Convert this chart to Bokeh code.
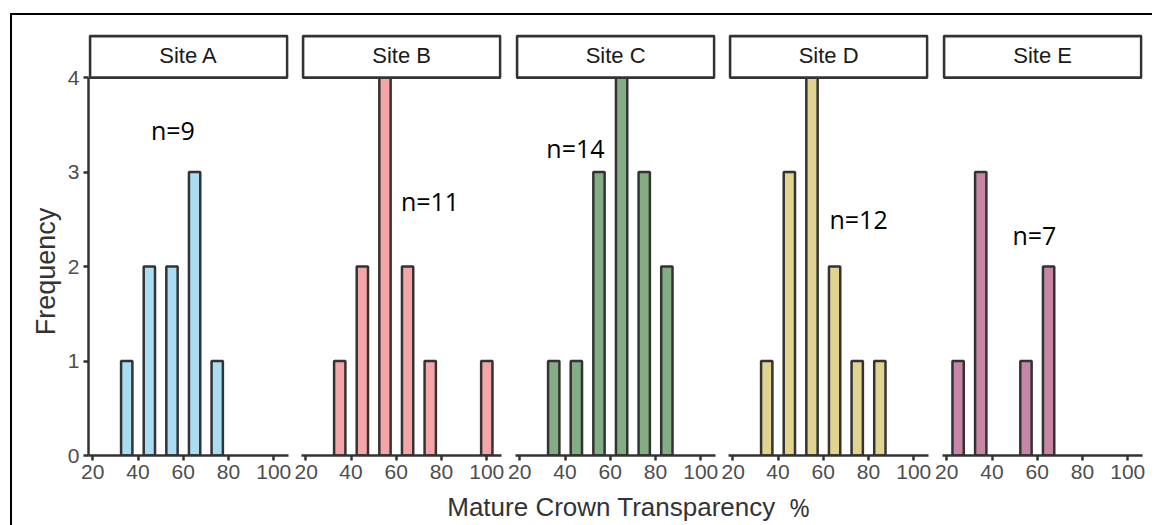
import math
from bokeh.plotting import figure
from bokeh.models import Range1d, FixedTicker
from bokeh.layouts import row, column
from bokeh.embed import file_html
from bokeh.resources import INLINE
from bokeh.core.properties import value

# ---------------- data ----------------
sites = ["Site A", "Site B", "Site C", "Site D", "Site E"]
colors = ["#a9ddf1", "#f4a5a8", "#85ad83", "#e0d490", "#c886a6"]

a_bins = [35, 45, 55, 65, 75]
a_counts = [1, 2, 2, 3, 1]
b_bins = [35, 45, 55, 65, 75, 100]
b_counts = [1, 2, 4, 2, 1, 1]
c_bins = [35, 45, 55, 65, 75, 85]
c_counts = [1, 1, 3, 4, 3, 2]
d_bins = [35, 45, 55, 65, 75, 85]
d_counts = [1, 3, 4, 2, 1, 1]
e_bins = [25, 35, 55, 65]
e_counts = [1, 3, 1, 2]

n_text = ["n=9", "n=11", "n=14", "n=12", "n=7"]
n_x = [55.4, 74.9, 44.6, 75.6, 58.7]
n_y = [3.45, 2.69, 3.25, 2.50, 2.33]

x_ticks = [20, 40, 60, 80, 100]
y_ticks = [0, 1, 2, 3, 4]
bin_width = 5

x_title = "Mature Crown Transparency"
x_title_unit = "%"
y_title = "Frequency"

all_bins = [a_bins, b_bins, c_bins, d_bins, e_bins]
all_counts = [a_counts, b_counts, c_counts, d_counts, e_counts]

# ---------------- layout ----------------
X0, X1 = 18.1, 106.5
Y_TOP = 4.466
STRIP_B, STRIP_T = 4.0, 4.439
FRAME_W, FRAME_H = 200, 422
TOP_B, BOT_B = 18, 36
left_borders = [26, 7, 8, 7, 8]
right_borders = [6, 6, 6, 6, 10]
LEFT_W = 50

AX = "#333333"
TICK_COL = "#4d4d4d"
TITLE_COL = "#333333"

# left strip holding the y title
ROW_H = TOP_B + FRAME_H + BOT_B
left = figure(frame_width=LEFT_W, frame_height=ROW_H,
              x_range=Range1d(0, LEFT_W), y_range=Range1d(0, ROW_H),
              output_backend="svg", toolbar_location=None,
              x_axis_location=None, y_axis_location=None, min_border=0)
left.outline_line_color = None
left.grid.visible = False
left.text(x=[LEFT_W - 17], y=[ROW_H - (253 - 15)], text=[y_title], angle=math.pi / 2,
          text_align="center", text_baseline="middle",
          text_font=value("Liberation Sans"), text_font_size="27px",
          text_color=TITLE_COL)

figs = [left]
for i in range(5):
    p = figure(frame_width=FRAME_W, frame_height=FRAME_H,
               x_range=Range1d(X0, X1), y_range=Range1d(0, Y_TOP),
               output_backend="svg", toolbar_location=None,
               y_axis_location="left" if i == 0 else None,
               min_border_top=TOP_B, min_border_bottom=BOT_B,
               min_border_left=left_borders[i],
               min_border_right=right_borders[i])
    p.outline_line_color = None
    p.grid.visible = False

    p.vbar(x=all_bins[i], top=all_counts[i], width=bin_width, bottom=0,
           fill_color=colors[i], line_color=AX, line_width=2.5)

    # facet strip
    sl, sr = X0 + 0.65, X1 - 0.55
    p.quad(left=[sl], right=[sr], bottom=[STRIP_B], top=[STRIP_T],
           fill_color="white", line_color=AX, line_width=2.8)
    p.text(x=[(sl + sr) / 2], y=[(STRIP_B + STRIP_T) / 2 + 0.01], text=[sites[i]],
           text_align="center", text_baseline="middle",
           text_font=value("Liberation Sans"), text_font_size="22px",
           text_color="#1a1a1a")

    # n labels
    p.text(x=[n_x[i]], y=[n_y[i]], text=[n_text[i]],
           text_align="center", text_baseline="middle",
           text_font=value("Open Sans"), text_font_size="25px",
           text_color="black")

    xa = p.xaxis[0]
    xa.ticker = FixedTicker(ticks=x_ticks)
    xa.axis_line_color = AX
    xa.axis_line_width = 2.5
    xa.major_tick_line_color = AX
    xa.major_tick_line_width = 2.5
    xa.major_tick_out = 5
    xa.major_tick_in = 0
    xa.minor_tick_line_color = None
    xa.major_label_standoff = 4
    xa.major_label_text_font = "Liberation Sans"
    xa.major_label_text_font_size = "21px"
    xa.major_label_text_color = TICK_COL

    if i == 0:
        ya = p.yaxis[0]
        ya.ticker = FixedTicker(ticks=y_ticks)
        ya.bounds = (0, 4)
        ya.axis_line_color = AX
        ya.axis_line_width = 2.5
        ya.major_tick_line_color = AX
        ya.major_tick_line_width = 2.5
        ya.major_tick_out = 5
        ya.major_tick_in = 0
        ya.minor_tick_line_color = None
        ya.major_label_standoff = 4
        ya.major_label_text_font = "Liberation Sans"
        ya.major_label_text_font_size = "21px"
        ya.major_label_text_color = TICK_COL
    figs.append(p)

# bottom strip holding the x title
TOTAL_W = LEFT_W + sum(left_borders) + sum(right_borders) + 5 * FRAME_W
LAB_H = 34
lab = figure(frame_width=TOTAL_W, frame_height=LAB_H,
             x_range=Range1d(12, 12 + TOTAL_W), y_range=Range1d(0, LAB_H),
             output_backend="svg", toolbar_location=None,
             x_axis_location=None, y_axis_location=None, min_border=0)
lab.outline_line_color = None
lab.grid.visible = False
lab.text(x=[611], y=[LAB_H - (506 - 491)], text=[x_title],
         text_align="center", text_baseline="middle",
         text_font=value("Liberation Sans"), text_font_size="26px",
         text_color=TITLE_COL)
lab.text(x=[799], y=[LAB_H - (506 - 491)], text=[x_title_unit],
         text_align="center", text_baseline="middle",
         text_font=value("Open Sans"), text_font_size="25px",
         text_color=TITLE_COL)

layout = column(row(figs, spacing=0), lab, spacing=0, margin=(13, 0, 0, 10),
                styles={"border-top": "2px solid black",
                        "border-left": "2px solid black"})

open("out.html", "w").write(file_html(layout, INLINE))
